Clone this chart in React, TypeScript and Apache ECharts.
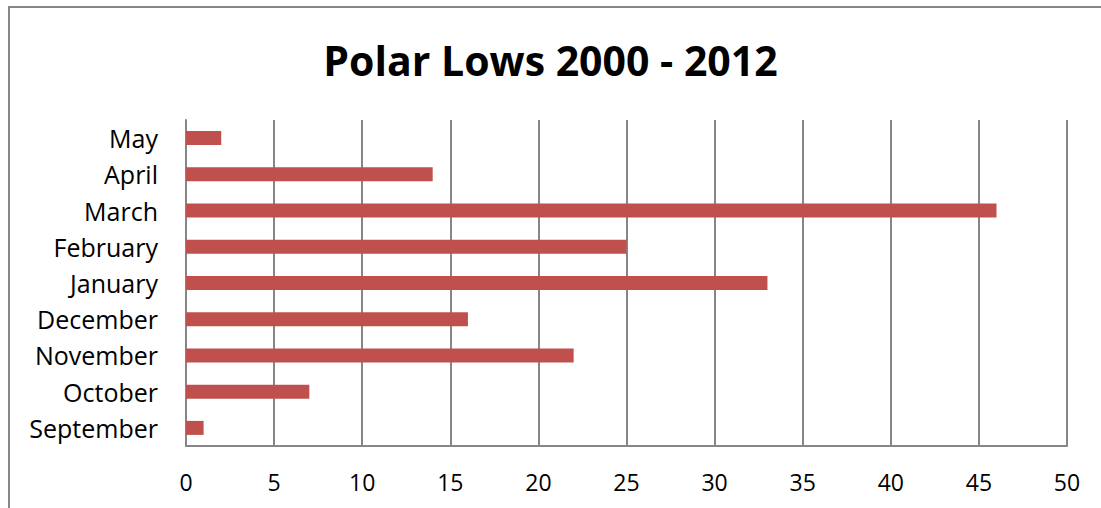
import React, { useEffect, useRef } from "react";
import * as echarts from "echarts";

const months = ["September", "October", "November", "December", "January", "February", "March", "April", "May"];
const counts = [1, 7, 22, 16, 33, 25, 46, 14, 2];
const xTicks = { min: 0, max: 50, interval: 5 };
const titleText = "Polar Lows 2000 - 2012";

export default function App() {
  const ref = useRef<HTMLDivElement>(null);
  useEffect(() => {
    document.body.style.margin = "0";
    const chart = echarts.init(ref.current!, null, { renderer: "svg" });
    const font = "'Open Sans', 'Noto Sans', sans-serif";
    chart.setOption({
      animation: false,
      backgroundColor: "#ffffff",
      title: {
        text: titleText,
        left: "center",
        top: 34,
        textStyle: { fontFamily: font, fontSize: 41, fontWeight: "bold", color: "#000" },
      },
      graphic: [
        {
          type: "rect",
          shape: { x: 9, y: 7, width: 1200, height: 600 },
          style: { fill: "none", stroke: "#878787", lineWidth: 2 },
          silent: true,
        },
      ],
      grid: { left: 186, right: 34, top: 120, bottom: 62 },
      xAxis: {
        type: "value",
        min: xTicks.min,
        max: xTicks.max,
        interval: xTicks.interval,
        axisLine: { show: true, lineStyle: { color: "#868686", width: 2 } },
        axisTick: { show: false },
        splitLine: { show: true, lineStyle: { color: "#868686", width: 2 } },
        axisLabel: { color: "#000", fontFamily: font, fontSize: 23, margin: 24 },
      },
      yAxis: {
        type: "category",
        data: months,
        axisLine: { show: true, lineStyle: { color: "#868686", width: 2 } },
        axisTick: { show: false },
        axisLabel: { color: "#000", fontFamily: font, fontSize: 25, margin: 28 },
      },
      series: [
        {
          type: "bar",
          data: counts,
          barWidth: 14,
          itemStyle: { color: "#C0504D" },
        },
      ],
    });
    return () => chart.dispose();
  }, []);
  return <div ref={ref} style={{ width: 1101, height: 508 }} />;
}
